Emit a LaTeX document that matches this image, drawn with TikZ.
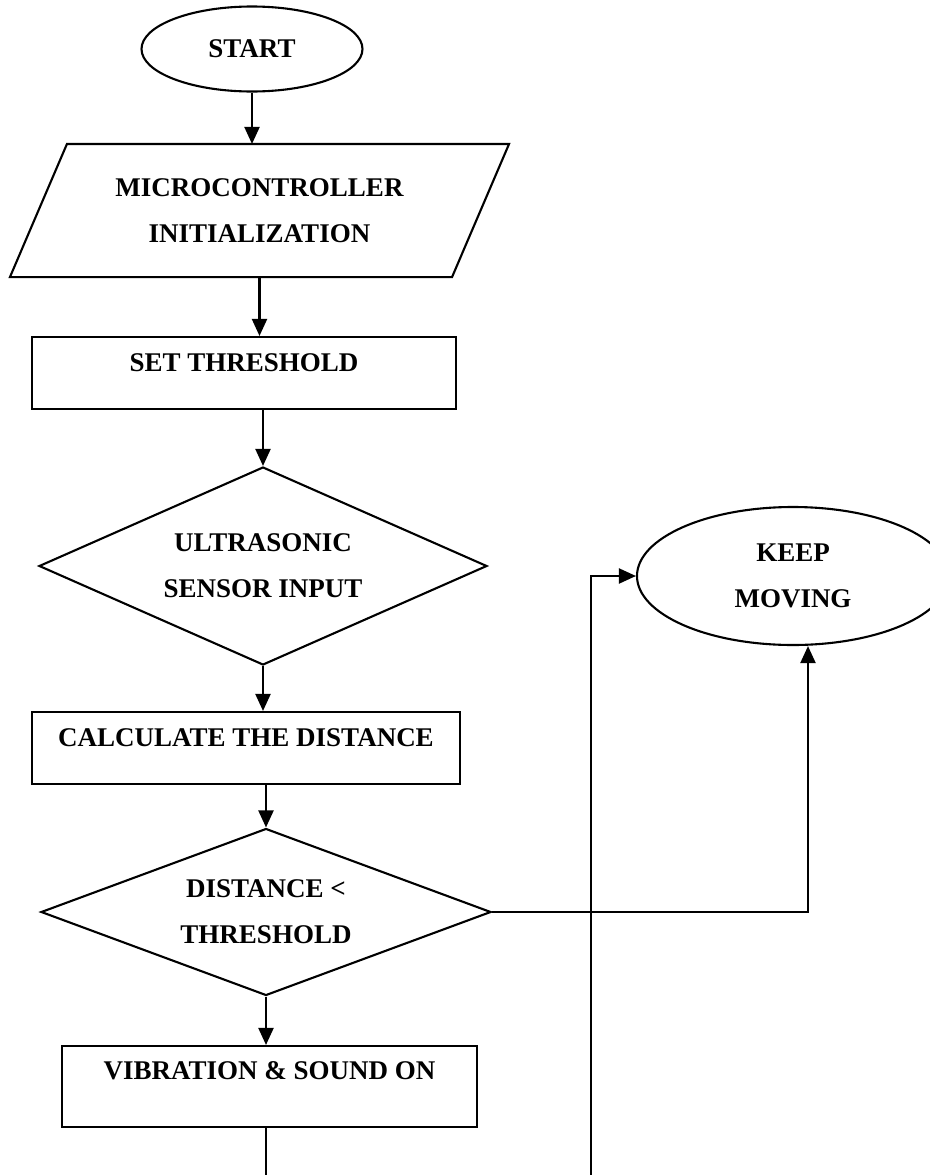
\documentclass[tikz,border=0pt]{standalone}
\usepackage{fontspec}
\setmainfont{Liberation Serif}
\usetikzlibrary{shapes.geometric,arrows.meta,positioning}

\begin{document}
\begin{tikzpicture}[x=1pt,y=-1pt,line width=2.1pt,
  every node/.style={font=\fontsize{27}{46}\selectfont\bfseries,align=center,inner sep=0pt},
  oval/.style={draw,ellipse},
  para/.style={rectangle},
  proc/.style={draw,rectangle,text height=19pt,text depth=23pt},
  decide/.style={draw,diamond,aspect=2.3},
  arr/.style={-{Triangle[length=17pt,width=15pt]}}]
\useasboundingbox (0,0) rectangle (929,1175);
% main column
\node[oval,minimum width=221pt,minimum height=85pt] (start) at (252,49) {START};
\node[para,minimum width=497pt,minimum height=131pt] (init) at (259.5,210.5) {MICROCONTROLLER\\INITIALIZATION};
\draw ([xshift=57pt]init.north west) -- (init.north east) -- ([xshift=-57pt]init.south east) -- (init.south west) -- cycle;
\node[proc,minimum width=424pt,minimum height=72pt] (thresh) at (244,373) {SET THRESHOLD};
\node[decide,minimum width=448pt,minimum height=198pt] (sensor) at (263,566) {ULTRASONIC\\SENSOR INPUT};
\node[proc,minimum width=428pt,minimum height=72pt] (calc) at (246,748) {CALCULATE THE DISTANCE};
\node[decide,minimum width=450pt,minimum height=167pt,aspect=2.7] (check) at (266,912) {DISTANCE <\\THRESHOLD};
\node[proc,minimum width=415pt,minimum height=81pt,text depth=33pt] (alarm) at (269.5,1086.5) {VIBRATION \& SOUND ON};
% right side
\node[oval,minimum width=312pt,minimum height=138pt] (keep) at (793,576) {KEEP\\MOVING};
\coordinate (turn) at (808,912);
\coordinate (endA) at (266,1175);
\coordinate (loop) at (591,1175);

\draw[arr] (start.south) -- (start.south |- init.north);
\draw[arr] (init.south) -- (init.south |- thresh.north);
\draw[arr] (thresh.south -| sensor.north) -- (sensor.north);
\draw[arr] (sensor.south) -- (sensor.south |- calc.north);
\draw[arr] (calc.south -| check.north) -- (check.north);
\draw[arr] (check.south) -- (check.south |- alarm.north);
\draw (alarm.south -| endA) -- (endA);
\draw[arr] (check.east) -- (turn) -- (turn |- keep.south);
\draw[arr] (loop) |- (keep.west);
\end{tikzpicture}
\end{document}
